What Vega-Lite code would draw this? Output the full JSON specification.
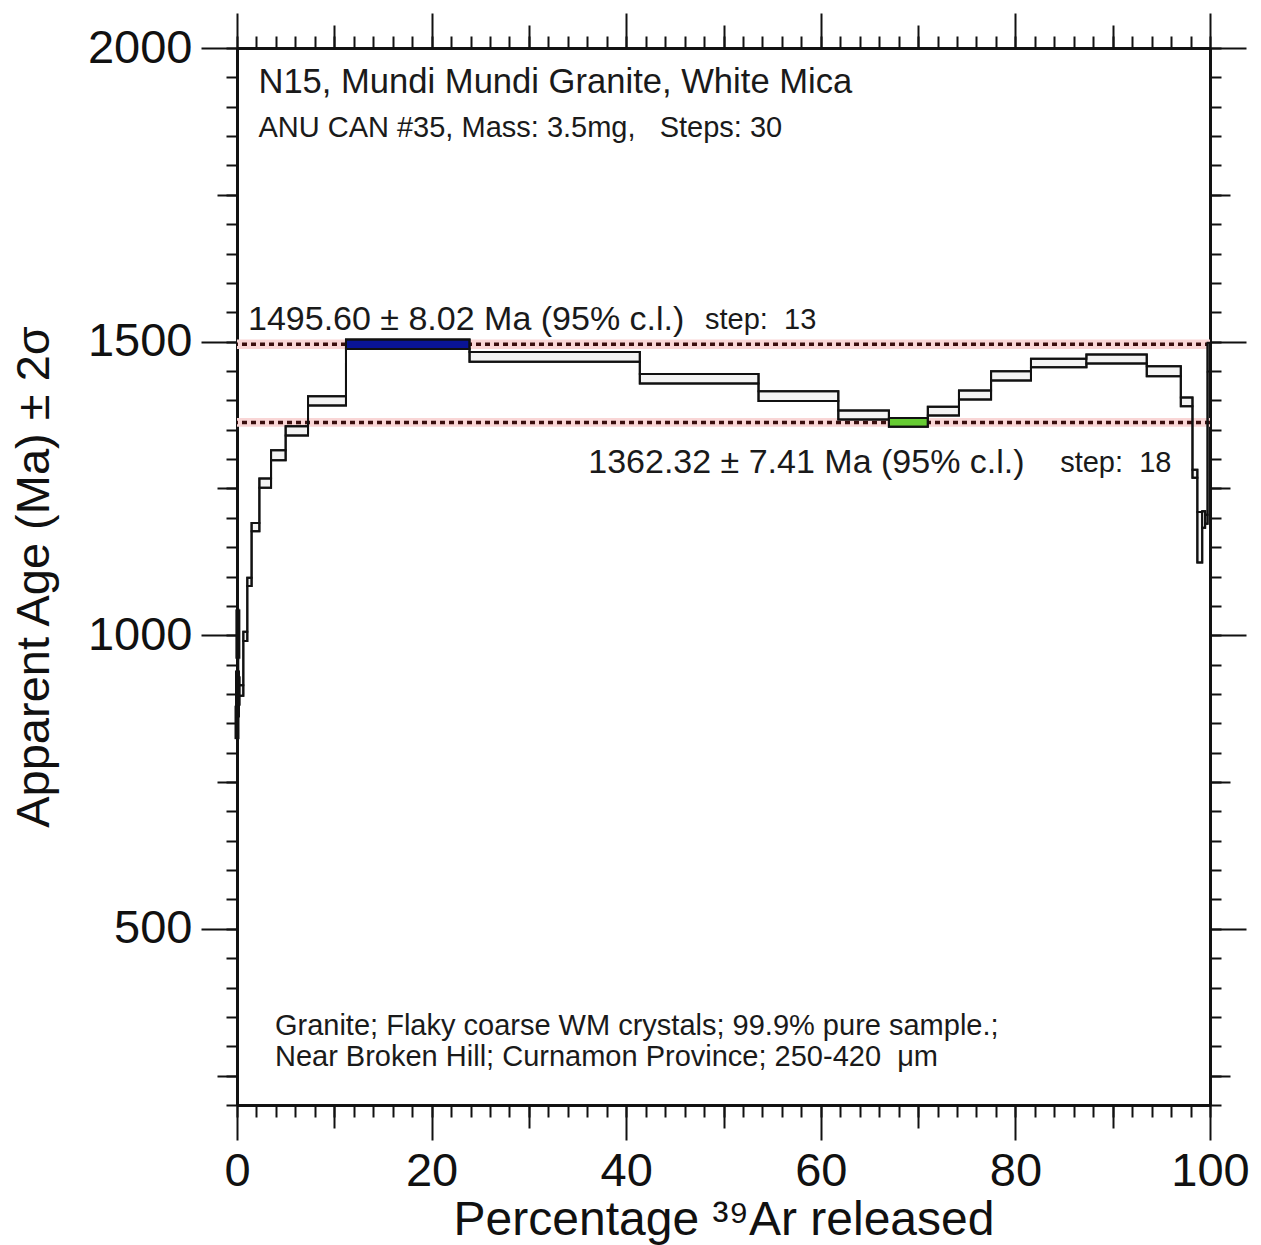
{
  "$schema": "https://vega.github.io/schema/vega-lite/v6.json",
  "autosize": {"type": "none"},
  "padding": {"left": 237, "top": 48, "right": 51, "bottom": 140},
  "width": 973,
  "height": 1057,
  "background": "white",
  "config": {
    "font": "Liberation Sans",
    "view": {"stroke": null},
    "axis": {
      "domainColor": "#111111",
      "domainWidth": 2.5,
      "tickColor": "#111111",
      "tickWidth": 2,
      "labelColor": "#111111",
      "titleColor": "#111111",
      "grid": false,
      "labelFont": "Liberation Sans",
      "titleFont": "Liberation Sans",
      "titleFontWeight": "normal"
    }
  },
  "datasets": {
    "steps": [
      {"step": 1, "x1": 0.0, "x2": 0.05, "lo": 823, "hi": 880, "kind": "step"},
      {"step": 2, "x1": 0.05, "x2": 0.09, "lo": 860, "hi": 940, "kind": "step"},
      {"step": 3, "x1": 0.09, "x2": 0.12, "lo": 960, "hi": 1044, "kind": "step"},
      {"step": 4, "x1": 0.12, "x2": 0.15, "lo": 880, "hi": 930, "kind": "step"},
      {"step": 5, "x1": 0.15, "x2": 0.65, "lo": 897, "hi": 915, "kind": "step"},
      {"step": 6, "x1": 0.65, "x2": 1.06, "lo": 990, "hi": 1006, "kind": "step"},
      {"step": 7, "x1": 1.06, "x2": 1.5, "lo": 1084, "hi": 1098, "kind": "step"},
      {"step": 8, "x1": 1.5, "x2": 2.3, "lo": 1177, "hi": 1191, "kind": "step"},
      {"step": 9, "x1": 2.3, "x2": 3.5, "lo": 1251, "hi": 1267, "kind": "step"},
      {"step": 10, "x1": 3.5, "x2": 5.0, "lo": 1298, "hi": 1315, "kind": "step"},
      {"step": 11, "x1": 5.0, "x2": 7.3, "lo": 1340, "hi": 1356, "kind": "step"},
      {"step": 12, "x1": 7.3, "x2": 11.2, "lo": 1391, "hi": 1407, "kind": "step"},
      {"step": 13, "x1": 11.2, "x2": 23.9, "lo": 1487.58, "hi": 1503.62, "kind": "p13"},
      {"step": 14, "x1": 23.9, "x2": 41.4, "lo": 1465.5, "hi": 1482.5, "kind": "step"},
      {"step": 15, "x1": 41.4, "x2": 53.6, "lo": 1428.6, "hi": 1445, "kind": "step"},
      {"step": 16, "x1": 53.6, "x2": 61.8, "lo": 1399, "hi": 1415.5, "kind": "step"},
      {"step": 17, "x1": 61.8, "x2": 67.0, "lo": 1367.3, "hi": 1382.7, "kind": "step"},
      {"step": 18, "x1": 67.0, "x2": 71.0, "lo": 1354.91, "hi": 1369.73, "kind": "p18"},
      {"step": 19, "x1": 71.0, "x2": 74.2, "lo": 1374, "hi": 1389, "kind": "step"},
      {"step": 20, "x1": 74.2, "x2": 77.5, "lo": 1401.4, "hi": 1416.7, "kind": "step"},
      {"step": 21, "x1": 77.5, "x2": 81.6, "lo": 1433.7, "hi": 1449.5, "kind": "step"},
      {"step": 22, "x1": 81.6, "x2": 87.3, "lo": 1456.3, "hi": 1471, "kind": "step"},
      {"step": 23, "x1": 87.3, "x2": 93.5, "lo": 1462.6, "hi": 1478, "kind": "step"},
      {"step": 24, "x1": 93.5, "x2": 97.0, "lo": 1441, "hi": 1458, "kind": "step"},
      {"step": 25, "x1": 97.0, "x2": 98.2, "lo": 1390, "hi": 1405, "kind": "step"},
      {"step": 26, "x1": 98.2, "x2": 98.7, "lo": 1268, "hi": 1282, "kind": "step"},
      {"step": 27, "x1": 98.7, "x2": 99.2, "lo": 1124, "hi": 1210, "kind": "step"},
      {"step": 28, "x1": 99.2, "x2": 99.5, "lo": 1183, "hi": 1211, "kind": "step"},
      {"step": 29, "x1": 99.5, "x2": 99.75, "lo": 1190, "hi": 1205, "kind": "step"},
      {"step": 30, "x1": 99.75, "x2": 100.0, "lo": 1449, "hi": 1498, "kind": "step"}
    ],
    "plateaus": [
      {"age": 1495.6, "lo": 1487.58, "hi": 1503.62, "xs": 0, "xe": 100},
      {"age": 1362.32, "lo": 1354.91, "hi": 1369.73, "xs": 0, "xe": 100}
    ],
    "texts": [
      {"tx": 2.2, "ty": 1940, "label": "N15, Mundi Mundi Granite, White Mica", "kind": "title"},
      {"tx": 2.2, "ty": 1864, "label": "ANU CAN #35, Mass: 3.5mg,\u00a0\u00a0 Steps: 30", "kind": "small"},
      {"tx": 1.13, "ty": 1537, "label": "1495.60 ± 8.02 Ma (95% c.l.)", "kind": "big"},
      {"tx": 48.1, "ty": 1536, "label": "step:\u00a0 13", "kind": "small"},
      {"tx": 36.1, "ty": 1294, "label": "1362.32 ± 7.41 Ma (95% c.l.)", "kind": "big"},
      {"tx": 84.6, "ty": 1294, "label": "step:\u00a0 18", "kind": "small"},
      {"tx": 3.9, "ty": 335, "label": "Granite; Flaky coarse WM crystals; 99.9% pure sample.;", "kind": "small"},
      {"tx": 3.9, "ty": 282, "label": "Near Broken Hill; Curnamon Province; 250-420\u00a0 μm", "kind": "small"}
    ]
  },
  "resolve": {"axis": {"x": "independent", "y": "independent"}},
  "layer": [
    {
      "data": {"name": "plateaus"},
      "mark": {"type": "rect", "fill": "#f9d6d6"},
      "encoding": {
        "x": {"field": "xs", "type": "quantitative", "scale": {"domain": [0, 100], "nice": false, "zero": false},
              "axis": {"orient": "top", "values": [10, 30, 50, 70, 90], "tickSize": 23, "labels": false, "title": null}},
        "x2": {"field": "xe"},
        "y": {"field": "lo", "type": "quantitative", "scale": {"domain": [200, 2000], "nice": false, "zero": false},
              "axis": {"orient": "right", "values": [250, 750, 1250, 1750], "tickSize": 20, "labels": false, "title": null}},
        "y2": {"field": "hi"}
      }
    },
    {
      "data": {"name": "plateaus"},
      "mark": {"type": "rule", "color": "#3a0e0e", "strokeWidth": 3.5, "strokeDash": [5, 4]},
      "encoding": {
        "y": {"field": "age", "type": "quantitative", "scale": {"domain": [200, 2000], "nice": false, "zero": false}, "axis": null}
      }
    },
    {
      "data": {"name": "steps"},
      "mark": {"type": "rect", "stroke": "#111111", "strokeWidth": 2},
      "encoding": {
        "x": {"field": "x1", "type": "quantitative", "scale": {"domain": [0, 100], "nice": false, "zero": false},
              "axis": {"orient": "bottom", "values": [0, 20, 40, 60, 80, 100], "tickSize": 35, "labelFontSize": 47, "labelPadding": 8, "labelFlush": false,
                       "title": "Percentage ³⁹Ar released", "titleFontSize": 48, "titlePadding": 2}},
        "x2": {"field": "x2"},
        "y": {"field": "lo", "type": "quantitative", "scale": {"domain": [200, 2000], "nice": false, "zero": false},
              "axis": {"orient": "left", "values": [500, 1000, 1500, 2000], "format": "d", "tickSize": 36, "labelFontSize": 47, "labelPadding": 9,
                       "title": "Apparent Age (Ma) ± 2σ", "titleFontSize": 47, "titlePadding": 29}},
        "y2": {"field": "hi"},
        "fill": {"field": "kind", "type": "nominal", "scale": {"domain": ["step", "p13", "p18"], "range": ["#f3f3f3", "#0a1496", "#66cc33"]}, "legend": null}
      }
    },
    {
      "data": {"name": "steps"},
      "mark": {"type": "line", "interpolate": "step-after", "color": "#111111", "strokeWidth": 2},
      "encoding": {
        "x": {"field": "x1", "type": "quantitative", "scale": {"domain": [0, 100], "nice": false, "zero": false},
              "axis": {"orient": "bottom", "values": [10, 30, 50, 70, 90], "tickSize": 23, "labels": false, "title": null}},
        "y": {"field": "hi", "type": "quantitative", "scale": {"domain": [200, 2000], "nice": false, "zero": false},
              "axis": {"orient": "left", "values": [250, 750, 1250, 1750], "tickSize": 20, "labels": false, "title": null}}
      }
    },
    {
      "data": {"name": "steps"},
      "mark": {"type": "line", "interpolate": "step-after", "color": "#111111", "strokeWidth": 2},
      "encoding": {
        "x": {"field": "x1", "type": "quantitative", "scale": {"domain": [0, 100], "nice": false, "zero": false},
              "axis": {"orient": "bottom", "values": [0, 2, 4, 6, 8, 10, 12, 14, 16, 18, 20, 22, 24, 26, 28, 30, 32, 34, 36, 38, 40, 42, 44, 46, 48, 50, 52, 54, 56, 58, 60, 62, 64, 66, 68, 70, 72, 74, 76, 78, 80, 82, 84, 86, 88, 90, 92, 94, 96, 98, 100], "tickSize": 12, "labels": false, "title": null}},
        "y": {"field": "lo", "type": "quantitative", "scale": {"domain": [200, 2000], "nice": false, "zero": false},
              "axis": {"orient": "left", "values": [200, 250, 300, 350, 400, 450, 500, 550, 600, 650, 700, 750, 800, 850, 900, 950, 1000, 1050, 1100, 1150, 1200, 1250, 1300, 1350, 1400, 1450, 1500, 1550, 1600, 1650, 1700, 1750, 1800, 1850, 1900, 1950, 2000], "tickSize": 11, "labels": false, "title": null}}
      }
    },
    {
      "data": {"name": "steps"},
      "transform": [{"filter": "datum.step <= 4"}],
      "mark": {"type": "rule", "color": "#111111", "strokeWidth": 5},
      "encoding": {
        "x": {"field": "x1", "type": "quantitative", "scale": {"domain": [0, 100], "nice": false, "zero": false}, "axis": null},
        "y": {"field": "lo", "type": "quantitative", "scale": {"domain": [200, 2000], "nice": false, "zero": false}, "axis": null},
        "y2": {"field": "hi"}
      }
    },
    {
      "data": {"name": "texts"},
      "transform": [{"filter": "datum.kind === 'big'"}],
      "mark": {"type": "text", "align": "left", "baseline": "middle", "fontSize": 34, "color": "#1a1a1a", "font": "Liberation Sans"},
      "encoding": {
        "x": {"field": "tx", "type": "quantitative", "scale": {"domain": [0, 100], "nice": false, "zero": false},
              "axis": {"orient": "top", "values": [0, 20, 40, 60, 80, 100], "tickSize": 35, "labels": false, "title": null}},
        "y": {"field": "ty", "type": "quantitative", "scale": {"domain": [200, 2000], "nice": false, "zero": false},
              "axis": {"orient": "right", "values": [500, 1000, 1500, 2000], "tickSize": 36, "labels": false, "title": null}},
        "text": {"field": "label"}
      }
    },
    {
      "data": {"name": "texts"},
      "transform": [{"filter": "datum.kind === 'title'"}],
      "mark": {"type": "text", "align": "left", "baseline": "middle", "fontSize": 34.6, "color": "#1a1a1a", "font": "Liberation Sans"},
      "encoding": {
        "x": {"field": "tx", "type": "quantitative", "scale": {"domain": [0, 100], "nice": false, "zero": false}, "axis": null},
        "y": {"field": "ty", "type": "quantitative", "scale": {"domain": [200, 2000], "nice": false, "zero": false}, "axis": null},
        "text": {"field": "label"}
      }
    },
    {
      "data": {"name": "texts"},
      "transform": [{"filter": "datum.kind === 'small'"}],
      "mark": {"type": "text", "align": "left", "baseline": "middle", "fontSize": 29, "color": "#1a1a1a", "font": "Liberation Sans"},
      "encoding": {
        "x": {"field": "tx", "type": "quantitative", "scale": {"domain": [0, 100], "nice": false, "zero": false},
              "axis": {"orient": "top", "values": [0, 2, 4, 6, 8, 10, 12, 14, 16, 18, 20, 22, 24, 26, 28, 30, 32, 34, 36, 38, 40, 42, 44, 46, 48, 50, 52, 54, 56, 58, 60, 62, 64, 66, 68, 70, 72, 74, 76, 78, 80, 82, 84, 86, 88, 90, 92, 94, 96, 98, 100], "tickSize": 12, "labels": false, "title": null}},
        "y": {"field": "ty", "type": "quantitative", "scale": {"domain": [200, 2000], "nice": false, "zero": false},
              "axis": {"orient": "right", "values": [200, 250, 300, 350, 400, 450, 500, 550, 600, 650, 700, 750, 800, 850, 900, 950, 1000, 1050, 1100, 1150, 1200, 1250, 1300, 1350, 1400, 1450, 1500, 1550, 1600, 1650, 1700, 1750, 1800, 1850, 1900, 1950, 2000], "tickSize": 11, "labels": false, "title": null}},
        "text": {"field": "label"}
      }
    }
  ]
}
